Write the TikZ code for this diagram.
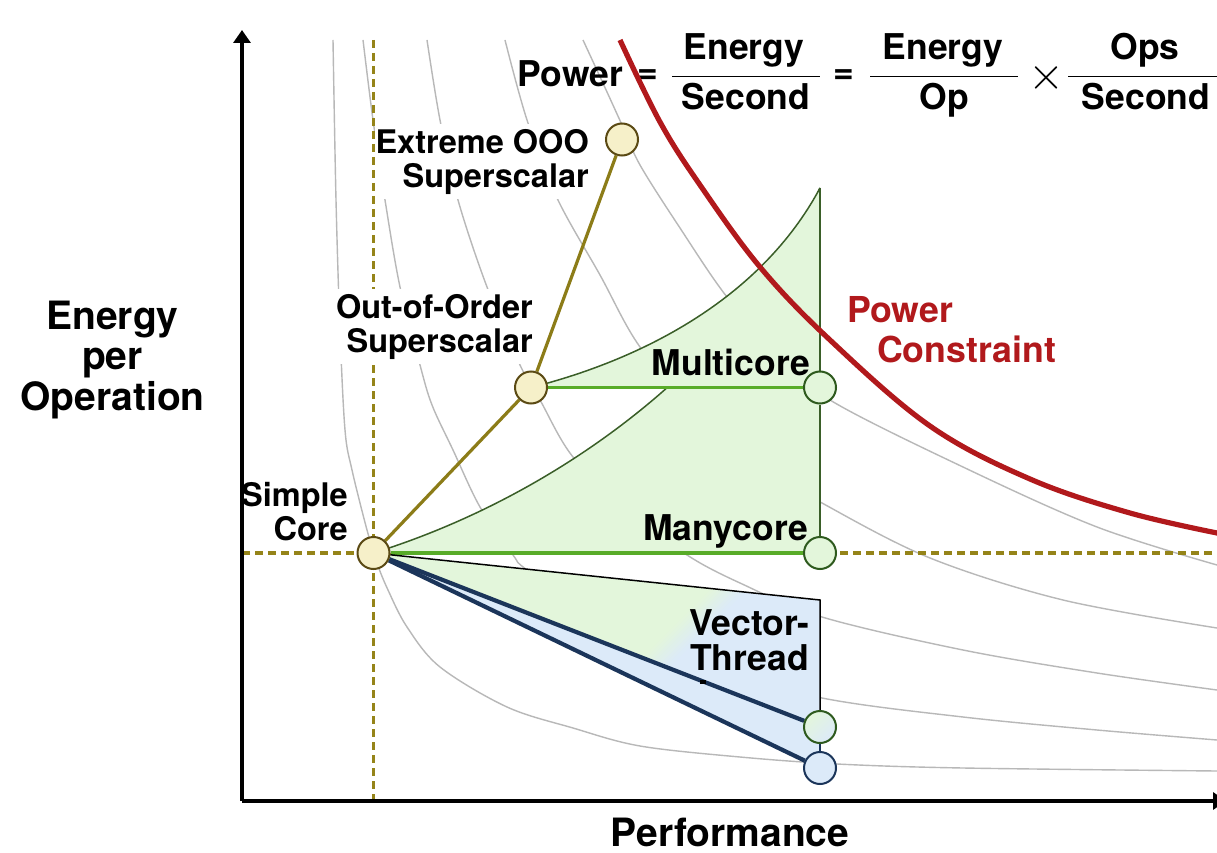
\documentclass[tikz,border=0pt]{standalone}
\usepackage{fontspec}
\usepackage{graphicx}
\setmainfont{TeX Gyre Heros}
\usetikzlibrary{arrows.meta}
\definecolor{cCoreFill}{HTML}{F6F0C9}
\definecolor{cCoreDraw}{HTML}{5B4A14}
\definecolor{cOlive}{HTML}{8C7C18}
\definecolor{cDash}{HTML}{958419}
\definecolor{cGreenLine}{HTML}{58AC28}
\definecolor{cGreenFill}{HTML}{E3F6DB}
\definecolor{cGreenDark}{HTML}{3A5E28}
\definecolor{cGreenCirc}{HTML}{2E5A1E}
\definecolor{cBlueFill}{HTML}{DCEAF9}
\definecolor{cNavy}{HTML}{1B355A}
\definecolor{cRed}{HTML}{B1191C}
\definecolor{cGray}{HTML}{B8B8B8}
\pgfdeclarelayer{back}
\pgfdeclarelayer{labels}
\pgfdeclarelayer{lines}
\pgfsetlayers{back,labels,lines,main}
\begin{document}
\begin{tikzpicture}[x=1pt,y=-1pt,
  isopow/.style={draw=cGray, line width=1.4pt},
  dashline/.style={draw=cDash, line width=3.3pt, dash pattern=on 8pt off 5pt},
  coreline/.style={draw=cOlive, line width=3.2pt},
  greenline/.style={draw=cGreenLine, line width=3.4pt},
  navyline/.style={draw=cNavy, line width=4.2pt},
  thingreen/.style={draw=cGreenDark, line width=1.5pt},
  circ/.style={circle, minimum size=32pt, inner sep=0pt, line width=2pt},
  yellowcirc/.style={circ, fill=cCoreFill, draw=cCoreDraw},
  greencirc/.style={circ, fill=cGreenFill, draw=cGreenCirc},
  bluecirc/.style={circ, fill=cBlueFill, draw=cNavy},
  smalllbl/.style={font=\bfseries\fontsize{32.5pt}{33.5pt}\selectfont, align=right, inner sep=0pt},
  biglbl/.style={font=\bfseries\fontsize{35.5pt}{35pt}\selectfont, align=right, inner sep=0pt},
  axislbl/.style={font=\bfseries\fontsize{39pt}{40.5pt}\selectfont, align=center, inner sep=0pt},
  eqtxt/.style={font=\bfseries\fontsize{35.5pt}{36pt}\selectfont, inner sep=0pt},
  axis/.style={draw=black, line width=3.3pt, -{Triangle[length=13pt,width=17pt]}}
]
\useasboundingbox (0,0) rectangle (1217,853);

% ---- points (circles)
\node[yellowcirc] (core) at (373.5,553) {};
\node[yellowcirc] (ooo) at (531,387.5) {};
\node[yellowcirc] (ext) at (622,139.5) {};
\node[greencirc] (multi) at (820,387.5) {};
\node[greencirc] (many) at (820,553) {};
\node[circ, draw=cGreenCirc, top color=cGreenFill, bottom color=cBlueFill, shading angle=45] (vtg) at (820,727) {};
\node[bluecirc] (vtb) at (820,768) {};

\coordinate (vtop) at (373.5,40);
\coordinate (vbot) at (373.5,801);
\coordinate (hleft) at (242,553);
\coordinate (hright) at (1217,553);
\coordinate (mtop) at (820,188);
\coordinate (vttop) at (820,600);
\coordinate (origin) at (242,801);
\coordinate (ytip) at (242,30);
\coordinate (xtip) at (1226,801);

% ---- background layer
\begin{pgfonlayer}{back}
\fill[white] (0,0) rectangle (1217,853);
\draw[isopow] plot[smooth, tension=0.55] coordinates {(333,40) (336,200) (340,330) (345,430) (352,470) (367,530) (377,563) (388,590) (407,627) (440,667) (507,707) (573,728) (640,746) (740,757) (837,764) (963,768) (1217,771)};
\draw[isopow] plot[smooth, tension=0.55] coordinates {(363,40) (373,120) (385,200) (400,287) (420,365) (432,405) (453,450) (480,507) (513,555) (527,570) (600,622) (700,665) (822,698) (963,717) (1097,730) (1217,740)};
\draw[isopow] plot[smooth, tension=0.55] coordinates {(427,40) (440,120) (458,200) (487,287) (520,365) (540,400) (573,457) (630,512) (687,555) (740,583) (822,617) (963,650) (1097,673) (1217,690)};
\draw[isopow] plot[smooth, tension=0.55] coordinates {(505,40) (527,120) (557,198) (600,275) (640,347) (700,415) (760,465) (822,503) (930,558) (1063,600) (1217,628)};
\draw[isopow] plot[smooth, tension=0.55] coordinates {(583,40) (607,92) (622,125) (640,165) (680,228) (727,297) (780,355) (830,400) (963,467) (1097,527) (1217,565)};

\draw[dashline] (vtop) -- (vbot);
\draw[dashline] (hleft) -- (hright);

% manycore region
\fill[cGreenFill] (core.center) .. controls (560,495) and (740,360) .. (mtop) -- (many.center) -- cycle;
\draw[thingreen] (core.center) .. controls (560,495) and (740,360) .. (mtop);
% multicore region
\fill[cGreenFill] (ooo.center) .. controls (640,360) and (760,300) .. (mtop) -- (multi.center) -- cycle;
\draw[thingreen] (ooo.center) .. controls (640,360) and (760,300) .. (mtop);

% vector-thread region
\begin{scope}
  \clip (core.center) -- (vttop) -- (vtg.center) -- cycle;
  \fill[cGreenFill] (360,540) rectangle (830,780);
  \fill[cBlueFill] (796,540) -- (900,540) -- (900,800) -- (536,800) -- cycle;
  \foreach \k in {0,...,8} {
    \pgfmathsetmacro\ca{1300+4*\k}
    \pgfmathsetmacro\cb{\ca+4.8}
    \pgfmathtruncatemacro\pc{(\k+0.5)*100/9}
    \fill[cBlueFill!\pc!cGreenFill] (\ca-540,540) -- (\cb-540,540) -- (\cb-800,800) -- (\ca-800,800) -- cycle;
  }
\end{scope}
\fill[cBlueFill] (core.center) -- (vtg.center) -- (vtb.center) -- cycle;
\end{pgfonlayer}

% ---- labels (anchor base = last line)
\begin{pgfonlayer}{labels}
\node[smalllbl, fill=white, inner xsep=1pt, inner ysep=5pt, anchor=base east] (lext) at (590,187) {Extreme OOO\\Superscalar};
\node[smalllbl, fill=white, inner xsep=5pt, inner ysep=5pt, anchor=base east] (looo) at (538,352) {Out-of-Order\\Superscalar};
\node[smalllbl, anchor=base east] (lsimple) at (348,540) {Simple\\Core};
\node[biglbl, anchor=base east] (lmulti) at (810,375) {Multicore};
\node[biglbl, anchor=base east] (lmany) at (808,540) {Manycore};
\node[biglbl, anchor=base east] (lvt) at (809,670) {Vector-\\Thread};
\node[biglbl, text=cRed, align=left, anchor=base west, font=\bfseries\fontsize{35.7pt}{40pt}\selectfont] (lpow) at (847,362) {Power\\\hspace*{30pt}Constraint};
\end{pgfonlayer}

% ---- connectors
\begin{pgfonlayer}{lines}
\draw[coreline] (core) -- (ooo);
\draw[coreline] (ooo) -- (ext);
\draw[greenline] (ooo) -- (multi);
\draw[greenline] (core) -- (many);
\draw[thingreen] (mtop) -- (multi);
\draw[thingreen] (multi) -- (many);
\draw[black, line width=1.5pt] (core) -- (vttop) -- (vtg);
\draw[cNavy, line width=1.5pt] (vtg) -- (vtb);
\draw[navyline] (core) -- (vtg);
\draw[navyline] (core) -- (vtb);
\end{pgfonlayer}
\fill[black] (700,680) rectangle (706,684);

% ---- axes
\draw[axis] (origin) -- (ytip);
\draw[axis] (origin) -- (xtip);
\node[axislbl, anchor=base] (ylbl) at (112.5,410) {Energy\\per\\Operation};
\node[axislbl, anchor=base] (xlbl) at (730,846) {Performance};

% ---- equation
\node[eqtxt, anchor=base] (eqP) at (570.5,87) {Power};
\node[eqtxt] (eq1) at (648,77) {=};
\node[eqtxt, anchor=base] (n1) at (744,60) {Energy};
\node[eqtxt, anchor=base] (d1) at (746,110) {Second};
\coordinate (r1a) at (672,76.7); \coordinate (r1b) at (820,76.7);
\draw[line width=1.6pt] (r1a) -- (r1b);
\node[eqtxt] (eq2) at (844,77) {=};
\node[eqtxt, anchor=base] (n2) at (943,60) {Energy};
\node[eqtxt, anchor=base] (d2) at (944.5,110) {Op};
\coordinate (r2a) at (870,76.7); \coordinate (r2b) at (1018,76.7);
\draw[line width=1.6pt] (r2a) -- (r2b);
\node[inner sep=0pt] (times) at (1046,77.5) {\resizebox{36pt}{!}{$\times$}};
\node[eqtxt, anchor=base] (n3) at (1145,60) {Ops};
\node[eqtxt, anchor=base] (d3) at (1146,110) {Second};
\coordinate (r3a) at (1068,76.7); \coordinate (r3b) at (1222,76.7);
\draw[line width=1.6pt] (r3a) -- (r3b);

% ---- power constraint curve
\draw[cRed, line width=5.2pt] plot[smooth, tension=0.6] coordinates {(620,40) (660,122) (700,185) (760,267) (830,340) (930,426) (1030,479) (1130,513) (1222,534)};
\end{tikzpicture}
\end{document}
